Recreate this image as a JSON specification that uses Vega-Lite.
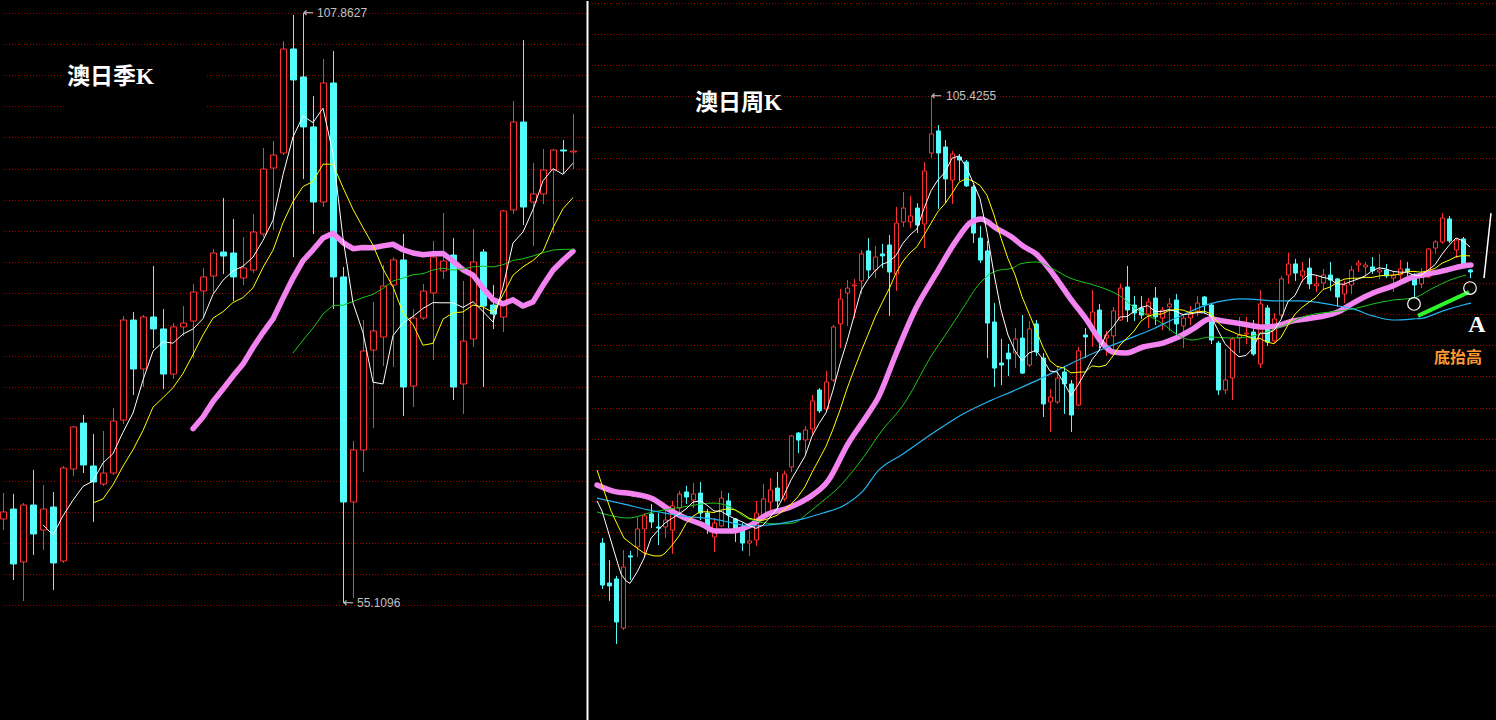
{
  "$schema": "https://vega.github.io/schema/vega-lite/v6.json",
  "background": "#000000",
  "padding": 0,
  "spacing": 0,
  "config": {"view": {"stroke": null}, "concat": {"spacing": 0}, "scale": {"continuousPadding": 0}},
  "datasets": {
    "left": [
      {"i":0,"o":62.63,"c":63.26,"h":64.96,"l":61.65},
      {"i":1,"o":63.52,"c":58.61,"h":64.87,"l":57.18},
      {"i":2,"o":58.79,"c":63.88,"h":64.06,"l":55.30},
      {"i":3,"o":63.88,"c":61.29,"h":67.01,"l":59.41},
      {"i":4,"o":61.65,"c":63.52,"h":65.67,"l":59.86},
      {"i":5,"o":63.70,"c":58.70,"h":65.04,"l":56.28},
      {"i":6,"o":58.88,"c":67.19,"h":67.37,"l":58.70},
      {"i":7,"o":67.10,"c":70.86,"h":70.94,"l":66.47},
      {"i":8,"o":71.21,"c":67.46,"h":71.93,"l":66.74},
      {"i":9,"o":67.37,"c":65.94,"h":70.23,"l":62.36},
      {"i":10,"o":65.76,"c":66.74,"h":70.50,"l":65.58},
      {"i":11,"o":66.74,"c":71.39,"h":72.55,"l":66.56},
      {"i":12,"o":71.48,"c":80.42,"h":80.78,"l":71.12},
      {"i":13,"o":80.42,"c":76.04,"h":81.14,"l":73.72},
      {"i":14,"o":76.04,"c":80.69,"h":80.87,"l":74.43},
      {"i":15,"o":80.69,"c":79.62,"h":85.25,"l":77.92},
      {"i":16,"o":79.62,"c":75.59,"h":81.40,"l":74.25},
      {"i":17,"o":75.59,"c":79.80,"h":80.15,"l":75.15},
      {"i":18,"o":79.80,"c":80.15,"h":81.67,"l":78.99},
      {"i":19,"o":80.33,"c":82.92,"h":83.64,"l":77.02},
      {"i":20,"o":83.01,"c":84.27,"h":85.07,"l":80.60},
      {"i":21,"o":84.35,"c":86.41,"h":86.77,"l":82.84},
      {"i":22,"o":86.50,"c":86.14,"h":91.33,"l":84.53},
      {"i":23,"o":86.41,"c":84.27,"h":89.45,"l":82.12},
      {"i":24,"o":84.18,"c":85.07,"h":87.84,"l":83.55},
      {"i":25,"o":84.89,"c":88.29,"h":89.90,"l":84.62},
      {"i":26,"o":88.11,"c":93.92,"h":95.80,"l":87.84},
      {"i":27,"o":94.01,"c":95.17,"h":96.42,"l":88.47},
      {"i":28,"o":95.35,"c":104.65,"h":105.36,"l":95.17},
      {"i":29,"o":104.65,"c":101.88,"h":107.69,"l":86.05},
      {"i":30,"o":102.15,"c":97.68,"h":107.8627,"l":93.03},
      {"i":31,"o":97.68,"c":90.97,"h":100.45,"l":88.11},
      {"i":32,"o":90.97,"c":101.61,"h":103.75,"l":90.52},
      {"i":33,"o":101.61,"c":84.27,"h":104.47,"l":81.40},
      {"i":34,"o":84.27,"c":64.15,"h":85.16,"l":55.1096},
      {"i":35,"o":64.15,"c":68.80,"h":69.60,"l":55.57},
      {"i":36,"o":68.80,"c":77.65,"h":80.42,"l":66.83},
      {"i":37,"o":77.74,"c":79.44,"h":82.03,"l":70.77},
      {"i":38,"o":78.90,"c":83.46,"h":85.34,"l":76.31},
      {"i":39,"o":83.55,"c":85.79,"h":86.05,"l":76.22},
      {"i":40,"o":85.79,"c":74.43,"h":88.11,"l":71.84},
      {"i":41,"o":74.52,"c":80.60,"h":81.40,"l":72.64},
      {"i":42,"o":80.60,"c":83.01,"h":83.64,"l":80.42},
      {"i":43,"o":82.84,"c":86.05,"h":87.48,"l":76.85},
      {"i":44,"o":84.80,"c":85.70,"h":89.99,"l":84.09},
      {"i":45,"o":86.23,"c":74.43,"h":87.75,"l":73.27},
      {"i":46,"o":74.70,"c":78.54,"h":83.91,"l":72.02},
      {"i":47,"o":78.72,"c":85.61,"h":88.56,"l":78.01},
      {"i":48,"o":86.50,"c":81.67,"h":86.77,"l":74.43},
      {"i":49,"o":81.76,"c":80.96,"h":83.55,"l":79.62},
      {"i":50,"o":80.69,"c":90.17,"h":90.26,"l":79.35},
      {"i":51,"o":90.26,"c":98.12,"h":100.00,"l":89.90},
      {"i":52,"o":98.12,"c":90.52,"h":105.45,"l":88.91},
      {"i":53,"o":90.97,"c":91.69,"h":94.46,"l":87.04},
      {"i":54,"o":91.69,"c":93.83,"h":95.71,"l":90.79},
      {"i":55,"o":93.83,"c":95.62,"h":95.71,"l":88.20},
      {"i":56,"o":95.62,"c":95.53,"h":96.51,"l":93.47},
      {"i":57,"o":95.44,"c":95.53,"h":98.84,"l":93.92}
    ],
    "right": [
      {"i":0,"o":80.39,"c":78.04,"h":80.67,"l":77.82},
      {"i":1,"o":78.15,"c":77.99,"h":79.44,"l":77.15},
      {"i":2,"o":78.38,"c":75.97,"h":78.55,"l":74.74},
      {"i":3,"o":75.63,"c":79.05,"h":80.00,"l":75.52},
      {"i":4,"o":79.67,"c":79.61,"h":79.95,"l":78.32},
      {"i":5,"o":80.17,"c":81.18,"h":81.85,"l":79.61},
      {"i":6,"o":81.18,"c":81.91,"h":82.07,"l":79.61},
      {"i":7,"o":82.02,"c":81.57,"h":82.58,"l":81.23},
      {"i":8,"o":81.29,"c":81.23,"h":82.07,"l":80.28},
      {"i":9,"o":81.29,"c":81.68,"h":82.35,"l":80.67},
      {"i":10,"o":81.12,"c":82.47,"h":82.75,"l":79.78},
      {"i":11,"o":82.35,"c":83.14,"h":83.31,"l":81.79},
      {"i":12,"o":83.25,"c":82.97,"h":83.59,"l":82.58},
      {"i":13,"o":82.80,"c":83.14,"h":83.75,"l":82.35},
      {"i":14,"o":83.19,"c":82.07,"h":83.81,"l":81.68},
      {"i":15,"o":82.07,"c":81.23,"h":82.30,"l":80.90},
      {"i":16,"o":80.73,"c":81.51,"h":81.79,"l":79.89},
      {"i":17,"o":81.35,"c":82.91,"h":83.31,"l":81.29},
      {"i":18,"o":82.75,"c":81.96,"h":83.19,"l":81.23},
      {"i":19,"o":81.74,"c":81.12,"h":81.79,"l":80.45},
      {"i":20,"o":81.18,"c":80.39,"h":81.51,"l":79.95},
      {"i":21,"o":80.39,"c":80.51,"h":81.07,"l":79.67},
      {"i":22,"o":80.56,"c":82.07,"h":82.75,"l":80.23},
      {"i":23,"o":81.96,"c":82.86,"h":83.70,"l":81.79},
      {"i":24,"o":82.69,"c":83.36,"h":84.03,"l":82.24},
      {"i":25,"o":83.47,"c":82.75,"h":84.37,"l":82.24},
      {"i":26,"o":82.86,"c":84.26,"h":84.43,"l":82.75},
      {"i":27,"o":84.65,"c":86.39,"h":86.44,"l":84.37},
      {"i":28,"o":86.55,"c":86.16,"h":86.61,"l":85.43},
      {"i":29,"o":86.16,"c":86.72,"h":86.95,"l":85.38},
      {"i":30,"o":86.78,"c":88.35,"h":88.68,"l":86.39},
      {"i":31,"o":88.96,"c":87.79,"h":89.07,"l":87.67},
      {"i":32,"o":87.90,"c":89.41,"h":90.03,"l":87.79},
      {"i":33,"o":89.52,"c":92.49,"h":92.60,"l":89.41},
      {"i":34,"o":92.66,"c":94.06,"h":94.62,"l":91.31},
      {"i":35,"o":94.39,"c":94.67,"h":95.12,"l":92.55},
      {"i":36,"o":94.79,"c":94.84,"h":95.18,"l":92.99},
      {"i":37,"o":95.07,"c":96.58,"h":96.80,"l":94.34},
      {"i":38,"o":96.75,"c":95.68,"h":97.47,"l":95.23},
      {"i":39,"o":95.68,"c":96.41,"h":97.03,"l":95.23},
      {"i":40,"o":96.58,"c":96.47,"h":97.14,"l":95.79},
      {"i":41,"o":97.08,"c":95.57,"h":97.64,"l":93.11},
      {"i":42,"o":95.46,"c":98.31,"h":99.21,"l":94.51},
      {"i":43,"o":98.37,"c":99.15,"h":100.05,"l":98.09},
      {"i":44,"o":98.37,"c":98.71,"h":99.83,"l":98.03},
      {"i":45,"o":99.15,"c":98.20,"h":99.43,"l":97.75},
      {"i":46,"o":98.26,"c":101.23,"h":101.73,"l":96.91},
      {"i":47,"o":102.23,"c":103.30,"h":105.4255,"l":101.95},
      {"i":48,"o":103.47,"c":102.23,"h":103.80,"l":99.10},
      {"i":49,"o":102.57,"c":100.78,"h":102.96,"l":99.43},
      {"i":50,"o":100.72,"c":102.18,"h":102.35,"l":99.38},
      {"i":51,"o":102.01,"c":101.84,"h":102.18,"l":100.67},
      {"i":52,"o":101.73,"c":100.39,"h":101.84,"l":100.33},
      {"i":53,"o":100.33,"c":97.75,"h":100.44,"l":97.19},
      {"i":54,"o":97.47,"c":96.24,"h":98.15,"l":96.07},
      {"i":55,"o":96.75,"c":92.71,"h":97.31,"l":90.75},
      {"i":56,"o":92.77,"c":90.19,"h":93.83,"l":89.13},
      {"i":57,"o":90.47,"c":90.36,"h":91.82,"l":89.24},
      {"i":58,"o":91.03,"c":90.70,"h":91.54,"l":89.75},
      {"i":59,"o":91.03,"c":91.82,"h":92.43,"l":90.19},
      {"i":60,"o":91.87,"c":89.91,"h":93.16,"l":89.86},
      {"i":61,"o":90.36,"c":92.38,"h":92.83,"l":90.25},
      {"i":62,"o":92.66,"c":91.09,"h":92.88,"l":90.87},
      {"i":63,"o":90.75,"c":88.18,"h":91.03,"l":87.45},
      {"i":64,"o":88.29,"c":88.57,"h":89.02,"l":86.61},
      {"i":65,"o":88.29,"c":89.63,"h":90.25,"l":88.18},
      {"i":66,"o":89.97,"c":89.30,"h":90.31,"l":87.62},
      {"i":67,"o":89.30,"c":87.56,"h":89.52,"l":86.61},
      {"i":68,"o":88.12,"c":91.15,"h":91.37,"l":88.07},
      {"i":69,"o":92.04,"c":91.93,"h":92.43,"l":90.75},
      {"i":70,"o":92.38,"c":93.33,"h":94.56,"l":91.37},
      {"i":71,"o":93.44,"c":91.82,"h":93.78,"l":91.31},
      {"i":72,"o":91.87,"c":92.04,"h":92.27,"l":90.87},
      {"i":73,"o":91.99,"c":93.39,"h":93.61,"l":90.98},
      {"i":74,"o":92.88,"c":94.67,"h":94.90,"l":92.83},
      {"i":75,"o":94.73,"c":93.44,"h":95.91,"l":92.77},
      {"i":76,"o":93.72,"c":93.27,"h":94.23,"l":92.83},
      {"i":77,"o":93.55,"c":93.16,"h":94.23,"l":92.94},
      {"i":78,"o":93.22,"c":93.89,"h":94.11,"l":92.43},
      {"i":79,"o":94.11,"c":93.05,"h":94.73,"l":92.60},
      {"i":80,"o":92.99,"c":93.44,"h":93.61,"l":92.32},
      {"i":81,"o":93.61,"c":93.78,"h":94.11,"l":92.27},
      {"i":82,"o":94.00,"c":92.66,"h":94.34,"l":92.04},
      {"i":83,"o":92.55,"c":92.99,"h":93.22,"l":91.31},
      {"i":84,"o":92.99,"c":93.22,"h":93.67,"l":92.60},
      {"i":85,"o":93.39,"c":93.83,"h":94.23,"l":93.11},
      {"i":86,"o":94.17,"c":93.72,"h":94.23,"l":93.27},
      {"i":87,"o":93.72,"c":91.76,"h":93.83,"l":91.54},
      {"i":88,"o":91.59,"c":88.96,"h":91.71,"l":88.68},
      {"i":89,"o":88.96,"c":89.52,"h":91.26,"l":88.74},
      {"i":90,"o":89.63,"c":91.82,"h":91.93,"l":88.40},
      {"i":91,"o":91.87,"c":92.04,"h":93.05,"l":91.03},
      {"i":92,"o":92.10,"c":92.15,"h":93.05,"l":91.54},
      {"i":93,"o":92.21,"c":90.98,"h":92.88,"l":90.87},
      {"i":94,"o":90.42,"c":93.78,"h":94.56,"l":90.19},
      {"i":95,"o":93.55,"c":91.65,"h":93.72,"l":91.43},
      {"i":96,"o":91.71,"c":92.94,"h":93.27,"l":91.59},
      {"i":97,"o":93.16,"c":95.18,"h":95.35,"l":92.99},
      {"i":98,"o":95.40,"c":96.02,"h":96.63,"l":94.90},
      {"i":99,"o":96.02,"c":95.51,"h":96.30,"l":95.07},
      {"i":100,"o":95.35,"c":95.63,"h":96.13,"l":95.01},
      {"i":101,"o":95.79,"c":94.90,"h":96.35,"l":94.62},
      {"i":102,"o":94.79,"c":94.90,"h":95.35,"l":94.45},
      {"i":103,"o":94.95,"c":95.40,"h":95.74,"l":94.56},
      {"i":104,"o":95.40,"c":95.12,"h":96.13,"l":94.51},
      {"i":105,"o":95.18,"c":94.17,"h":95.23,"l":93.61},
      {"i":106,"o":94.34,"c":94.84,"h":95.07,"l":93.83},
      {"i":107,"o":94.84,"c":95.68,"h":95.91,"l":94.34},
      {"i":108,"o":95.96,"c":96.07,"h":96.24,"l":95.57},
      {"i":109,"o":95.85,"c":95.96,"h":96.13,"l":95.35},
      {"i":110,"o":95.85,"c":95.63,"h":96.41,"l":95.46},
      {"i":111,"o":95.57,"c":95.68,"h":96.58,"l":95.18},
      {"i":112,"o":95.68,"c":95.35,"h":96.02,"l":95.23},
      {"i":113,"o":95.23,"c":95.40,"h":95.57,"l":94.45},
      {"i":114,"o":95.40,"c":95.74,"h":96.24,"l":95.12},
      {"i":115,"o":95.74,"c":95.63,"h":96.13,"l":95.35},
      {"i":116,"o":95.23,"c":94.84,"h":95.51,"l":94.11},
      {"i":117,"o":94.90,"c":95.29,"h":95.79,"l":94.67},
      {"i":118,"o":95.29,"c":96.86,"h":96.91,"l":95.23},
      {"i":119,"o":96.91,"c":97.25,"h":97.36,"l":96.58},
      {"i":120,"o":97.25,"c":98.59,"h":98.87,"l":97.14},
      {"i":121,"o":98.54,"c":97.31,"h":98.71,"l":97.19},
      {"i":122,"o":96.80,"c":97.36,"h":97.42,"l":96.35},
      {"i":123,"o":97.42,"c":96.02,"h":97.53,"l":95.91},
      {"i":124,"o":95.68,"c":95.57,"h":95.74,"l":95.23}
    ],
    "leftGrid": [
      {"p":107.82},{"p":105.05},{"p":102.28},{"p":99.51},{"p":96.74},
      {"p":93.88},{"p":91.10},{"p":88.33},{"p":85.56},{"p":82.79},
      {"p":79.93},{"p":77.16},{"p":74.39},{"p":71.62},{"p":68.84},
      {"p":65.98},{"p":63.21},{"p":60.44},{"p":57.67},{"p":54.90}
    ],
    "rightGrid": [
      {"p":110.605},{"p":108.869},{"p":107.133},{"p":105.397},{"p":103.661},
      {"p":101.925},{"p":100.189},{"p":98.453},{"p":96.661},{"p":94.925},
      {"p":93.189},{"p":91.453},{"p":89.717},{"p":87.925},{"p":86.189},
      {"p":84.453},{"p":82.717},{"p":80.981},{"p":79.189},{"p":77.453},
      {"p":75.717}
    ],
    "rightHead": [
      {"ma":"MA5","i":-0.71,"v":82.75},{"ma":"MA5","i":0,"v":82.19},{"ma":"MA5","i":0.86,"v":81.07},
      {"ma":"MA5","i":1.71,"v":79.95},{"ma":"MA5","i":2.71,"v":78.66},{"ma":"MA5","i":3.43,"v":78.27},
      {"ma":"MA5","i":4,"v":78.13},
      {"ma":"MA10","i":-0.71,"v":84.48},{"ma":"MA10","i":0.29,"v":83.31},{"ma":"MA10","i":1.29,"v":82.19},
      {"ma":"MA10","i":2.29,"v":81.35},{"ma":"MA10","i":3.14,"v":80.67},{"ma":"MA10","i":4.57,"v":80.23},
      {"ma":"MA10","i":6,"v":79.83},{"ma":"MA10","i":7.43,"v":79.67},{"ma":"MA10","i":8.43,"v":79.67},
      {"ma":"MA10","i":9,"v":79.82}
    ],
    "rightMA": [
      {"ma":"MA20","i":-0.71,"v":83.64},{"ma":"MA20","i":1.57,"v":83.30},{"ma":"MA20","i":4.43,"v":83.14},
      {"ma":"MA20","i":7.29,"v":82.86},{"ma":"MA20","i":9.43,"v":82.30},{"ma":"MA20","i":11.57,"v":81.85},
      {"ma":"MA20","i":14.43,"v":81.40},{"ma":"MA20","i":16.14,"v":81.07},{"ma":"MA20","i":18.71,"v":81.07},
      {"ma":"MA20","i":21.0,"v":81.35},{"ma":"MA20","i":23.71,"v":82.02},{"ma":"MA20","i":26.57,"v":82.35},
      {"ma":"MA20","i":29.43,"v":82.91},{"ma":"MA20","i":32.29,"v":83.87},{"ma":"MA20","i":35.14,"v":85.94},
      {"ma":"MA20","i":38.0,"v":87.62},{"ma":"MA20","i":39.43,"v":88.51},{"ma":"MA20","i":42.0,"v":90.98},
      {"ma":"MA20","i":44.86,"v":93.55},{"ma":"MA20","i":47.71,"v":95.46},{"ma":"MA20","i":50.57,"v":97.31},
      {"ma":"MA20","i":52.57,"v":98.31},{"ma":"MA20","i":54.14,"v":98.54},{"ma":"MA20","i":56.29,"v":98.03},
      {"ma":"MA20","i":58.71,"v":97.47},{"ma":"MA20","i":60.14,"v":97.02},{"ma":"MA20","i":62.0,"v":96.58},
      {"ma":"MA20","i":64.43,"v":95.46},{"ma":"MA20","i":66.86,"v":94.11},{"ma":"MA20","i":69.14,"v":92.94},
      {"ma":"MA20","i":71.57,"v":91.54},{"ma":"MA20","i":73.0,"v":91.09},{"ma":"MA20","i":74.86,"v":91.03},
      {"ma":"MA20","i":77.29,"v":91.37},{"ma":"MA20","i":80.14,"v":91.59},{"ma":"MA20","i":82.0,"v":91.87},
      {"ma":"MA20","i":84.43,"v":92.38},{"ma":"MA20","i":86.86,"v":92.94},{"ma":"MA20","i":88.71,"v":92.83},
      {"ma":"MA20","i":91.57,"v":92.66},{"ma":"MA20","i":94.43,"v":92.49},{"ma":"MA20","i":96.29,"v":92.55},
      {"ma":"MA20","i":98.71,"v":92.83},{"ma":"MA20","i":100.57,"v":92.94},{"ma":"MA20","i":105.43,"v":93.39},
      {"ma":"MA20","i":107.29,"v":93.83},{"ma":"MA20","i":110.14,"v":94.39},{"ma":"MA20","i":113.0,"v":94.79},
      {"ma":"MA20","i":115.86,"v":95.29},{"ma":"MA20","i":117.29,"v":95.40},{"ma":"MA20","i":120.14,"v":95.63},
      {"ma":"MA20","i":123.0,"v":95.91},{"ma":"MA20","i":124.14,"v":95.96},
      {"ma":"MA30","i":-0.71,"v":82.13},{"ma":"MA30","i":1.57,"v":81.90},{"ma":"MA30","i":3.71,"v":81.79},
      {"ma":"MA30","i":7.29,"v":82.13},{"ma":"MA30","i":11.57,"v":82.41},{"ma":"MA30","i":15.86,"v":82.63},
      {"ma":"MA30","i":18.0,"v":82.47},{"ma":"MA30","i":21.0,"v":81.74},{"ma":"MA30","i":25.14,"v":81.46},
      {"ma":"MA30","i":27.29,"v":81.51},{"ma":"MA30","i":29.43,"v":82.07},{"ma":"MA30","i":31.57,"v":82.75},
      {"ma":"MA30","i":33.71,"v":83.47},{"ma":"MA30","i":35.86,"v":84.43},{"ma":"MA30","i":38.0,"v":85.55},
      {"ma":"MA30","i":39.43,"v":86.39},{"ma":"MA30","i":43.43,"v":88.35},{"ma":"MA30","i":46.86,"v":90.75},
      {"ma":"MA30","i":49.71,"v":92.43},{"ma":"MA30","i":51.57,"v":93.55},{"ma":"MA30","i":54.0,"v":94.95},
      {"ma":"MA30","i":56.29,"v":95.63},{"ma":"MA30","i":58.71,"v":95.79},{"ma":"MA30","i":59.71,"v":96.02},
      {"ma":"MA30","i":62.0,"v":96.13},{"ma":"MA30","i":64.43,"v":95.74},{"ma":"MA30","i":66.86,"v":95.23},
      {"ma":"MA30","i":69.71,"v":94.90},{"ma":"MA30","i":71.57,"v":94.67},{"ma":"MA30","i":74.0,"v":94.23},
      {"ma":"MA30","i":76.29,"v":93.50},{"ma":"MA30","i":78.71,"v":92.99},{"ma":"MA30","i":80.14,"v":92.66},
      {"ma":"MA30","i":82.0,"v":92.10},{"ma":"MA30","i":84.43,"v":91.76},{"ma":"MA30","i":86.86,"v":91.93},
      {"ma":"MA30","i":89.71,"v":91.87},{"ma":"MA30","i":93.0,"v":91.99},{"ma":"MA30","i":95.43,"v":92.27},
      {"ma":"MA30","i":97.29,"v":92.55},{"ma":"MA30","i":100.57,"v":93.11},{"ma":"MA30","i":105.43,"v":93.39},
      {"ma":"MA30","i":107.29,"v":93.50},{"ma":"MA30","i":110.14,"v":93.78},{"ma":"MA30","i":113.0,"v":94.00},
      {"ma":"MA30","i":115.86,"v":94.11},{"ma":"MA30","i":118.71,"v":94.67},{"ma":"MA30","i":121.14,"v":95.12},
      {"ma":"MA30","i":123.43,"v":95.40},
      {"ma":"MA60","i":-0.71,"v":82.91},{"ma":"MA60","i":3.0,"v":82.58},{"ma":"MA60","i":7.29,"v":82.19},
      {"ma":"MA60","i":11.57,"v":81.90},{"ma":"MA60","i":15.86,"v":81.74},{"ma":"MA60","i":18.71,"v":81.51},
      {"ma":"MA60","i":21.0,"v":81.35},{"ma":"MA60","i":25.14,"v":81.46},{"ma":"MA60","i":28.71,"v":81.74},
      {"ma":"MA60","i":31.57,"v":82.07},{"ma":"MA60","i":34.43,"v":82.47},{"ma":"MA60","i":37.29,"v":83.31},
      {"ma":"MA60","i":39.43,"v":84.43},{"ma":"MA60","i":43.0,"v":85.38},{"ma":"MA60","i":47.29,"v":86.55},
      {"ma":"MA60","i":51.57,"v":87.62},{"ma":"MA60","i":55.43,"v":88.35},{"ma":"MA60","i":58.71,"v":88.90},
      {"ma":"MA60","i":62.0,"v":89.47},{"ma":"MA60","i":66.86,"v":90.42},{"ma":"MA60","i":71.57,"v":91.26},
      {"ma":"MA60","i":76.29,"v":91.99},{"ma":"MA60","i":78.71,"v":92.38},{"ma":"MA60","i":82.0,"v":92.99},
      {"ma":"MA60","i":86.86,"v":93.78},{"ma":"MA60","i":91.57,"v":94.06},{"ma":"MA60","i":96.29,"v":93.95},
      {"ma":"MA60","i":99.71,"v":93.95},{"ma":"MA60","i":104.43,"v":93.72},{"ma":"MA60","i":107.29,"v":93.50},
      {"ma":"MA60","i":110.14,"v":93.11},{"ma":"MA60","i":113.0,"v":92.88},{"ma":"MA60","i":115.86,"v":92.94},
      {"ma":"MA60","i":117.29,"v":92.99},{"ma":"MA60","i":120.14,"v":93.39},{"ma":"MA60","i":123.0,"v":93.72},
      {"ma":"MA60","i":124.14,"v":93.83}
    ],
    "rightMarks": [{"i":116.0,"p":93.78},{"i":124.0,"p":94.67}],
    "rightRise": [{"i":116.57,"p":93.11},{"i":123.86,"p":94.45}],
    "rightSlash": [{"i":126.0,"p":95.23},{"i":127.0,"p":98.87}]
  },
  "hconcat": [
    {
      "width": 588,
      "height": 720,
      "layer": [
        {
          "data": {"name": "leftGrid"},
          "mark": {"type": "rule", "stroke": "#a00000", "strokeWidth": 1, "strokeDash": [1, 2]},
          "encoding": {"y": {"field": "p", "type": "quantitative", "scale": {"domain": [44.572, 108.94], "nice": false, "zero": false}, "axis": null}}
        },
        {
          "data": {"values": [{"i0": 6.1, "i1": 20.4, "p0": 103.6, "p1": 99.1}]},
          "mark": {"type": "rect", "fill": "#000000"},
          "encoding": {
            "x": {"field": "i0", "type": "quantitative", "scale": {"domain": [-0.2, 58.6], "nice": false, "zero": false, "padding": 0}, "axis": null},
            "x2": {"field": "i1"},
            "y": {"field": "p0", "type": "quantitative", "scale": {"domain": [44.572, 108.94], "nice": false, "zero": false}, "axis": null},
            "y2": {"field": "p1"}
          }
        },
        {
          "data": {"name": "left"},
          "mark": {"type": "rule", "strokeWidth": 1, "xOffset": 0.5},
          "encoding": {
            "x": {"field": "i", "type": "quantitative", "scale": {"domain": [-0.2, 58.6], "nice": false, "zero": false, "padding": 0}, "axis": null},
            "y": {"field": "h", "type": "quantitative", "scale": {"domain": [44.572, 108.94], "nice": false, "zero": false}, "axis": null},
            "y2": {"field": "l"},
            "color": {"condition": {"test": "datum.c > datum.o", "value": "#ff3232"}, "value": "#54fcfc"}
          }
        },
        {
          "data": {"name": "left"},
          "mark": {"type": "bar", "size": 6, "strokeWidth": 1, "xOffset": 0.5},
          "encoding": {
            "x": {"field": "i", "type": "quantitative", "scale": {"domain": [-0.2, 58.6], "nice": false, "zero": false, "padding": 0}, "axis": null},
            "y": {"field": "o", "type": "quantitative", "scale": {"domain": [44.572, 108.94], "nice": false, "zero": false}, "axis": null},
            "y2": {"field": "c"},
            "fill": {"condition": {"test": "datum.c > datum.o", "value": "#000000"}, "value": "#54fcfc"},
            "stroke": {"condition": {"test": "datum.c > datum.o", "value": "#ff3232"}, "value": "#54fcfc"}
          }
        },
        {
          "data": {"name": "left"},
          "transform": [
            {"window": [{"op": "mean", "field": "c", "as": "ma"}, {"op": "count", "as": "n"}], "frame": [-19, 0], "sort": [{"field": "i"}]},
            {"filter": "datum.n >= 20"}
          ],
          "mark": {"type": "line", "stroke": "#f383f0", "strokeWidth": 5.5, "strokeCap": "round", "strokeJoin": "round"},
          "encoding": {
            "x": {"field": "i", "type": "quantitative", "scale": {"domain": [-0.2, 58.6], "nice": false, "zero": false, "padding": 0}, "axis": null},
            "y": {"field": "ma", "type": "quantitative", "scale": {"domain": [44.572, 108.94], "nice": false, "zero": false}, "axis": null}
          }
        },
        {
          "data": {"name": "left"},
          "transform": [
            {"window": [{"op": "mean", "field": "c", "as": "ma"}, {"op": "count", "as": "n"}], "frame": [-29, 0], "sort": [{"field": "i"}]},
            {"filter": "datum.n >= 30"}
          ],
          "mark": {"type": "line", "stroke": "#19c819", "strokeWidth": 1},
          "encoding": {
            "x": {"field": "i", "type": "quantitative", "scale": {"domain": [-0.2, 58.6], "nice": false, "zero": false, "padding": 0}, "axis": null},
            "y": {"field": "ma", "type": "quantitative", "scale": {"domain": [44.572, 108.94], "nice": false, "zero": false}, "axis": null}
          }
        },
        {
          "data": {"name": "left"},
          "transform": [
            {"window": [{"op": "mean", "field": "c", "as": "ma"}, {"op": "count", "as": "n"}], "frame": [-9, 0], "sort": [{"field": "i"}]},
            {"filter": "datum.n >= 10"}
          ],
          "mark": {"type": "line", "stroke": "#ffff00", "strokeWidth": 1},
          "encoding": {
            "x": {"field": "i", "type": "quantitative", "scale": {"domain": [-0.2, 58.6], "nice": false, "zero": false, "padding": 0}, "axis": null},
            "y": {"field": "ma", "type": "quantitative", "scale": {"domain": [44.572, 108.94], "nice": false, "zero": false}, "axis": null}
          }
        },
        {
          "data": {"name": "left"},
          "transform": [
            {"window": [{"op": "mean", "field": "c", "as": "ma"}, {"op": "count", "as": "n"}], "frame": [-4, 0], "sort": [{"field": "i"}]},
            {"filter": "datum.n >= 5"}
          ],
          "mark": {"type": "line", "stroke": "#ffffff", "strokeWidth": 1},
          "encoding": {
            "x": {"field": "i", "type": "quantitative", "scale": {"domain": [-0.2, 58.6], "nice": false, "zero": false, "padding": 0}, "axis": null},
            "y": {"field": "ma", "type": "quantitative", "scale": {"domain": [44.572, 108.94], "nice": false, "zero": false}, "axis": null}
          }
        },
        {
          "data": {"name": "left"},
          "transform": [{"joinaggregate": [{"op": "max", "field": "h", "as": "hmax"}]}, {"filter": "datum.h === datum.hmax"}],
          "layer": [
            {
              "mark": {"type": "text", "text": "←", "font": "DejaVu Sans", "fontSize": 13, "fill": "#c0c0c0", "align": "left", "baseline": "middle"},
              "encoding": {
                "x": {"field": "i", "type": "quantitative", "scale": {"domain": [-0.2, 58.6], "nice": false, "zero": false, "padding": 0}, "axis": null},
                "y": {"field": "h", "type": "quantitative", "scale": {"domain": [44.572, 108.94], "nice": false, "zero": false}, "axis": null}
              }
            },
            {
              "mark": {"type": "text", "font": "Liberation Sans", "fontSize": 12, "fill": "#c0c0c0", "align": "left", "baseline": "middle", "dx": 14},
              "encoding": {
                "x": {"field": "i", "type": "quantitative", "scale": {"domain": [-0.2, 58.6], "nice": false, "zero": false, "padding": 0}, "axis": null},
                "y": {"field": "h", "type": "quantitative", "scale": {"domain": [44.572, 108.94], "nice": false, "zero": false}, "axis": null},
                "text": {"field": "h", "type": "quantitative", "format": ".4f"}
              }
            }
          ]
        },
        {
          "data": {"name": "left"},
          "transform": [{"joinaggregate": [{"op": "min", "field": "l", "as": "lmin"}]}, {"filter": "datum.l === datum.lmin"}],
          "layer": [
            {
              "mark": {"type": "text", "text": "←", "font": "DejaVu Sans", "fontSize": 13, "fill": "#c0c0c0", "align": "left", "baseline": "middle"},
              "encoding": {
                "x": {"field": "i", "type": "quantitative", "scale": {"domain": [-0.2, 58.6], "nice": false, "zero": false, "padding": 0}, "axis": null},
                "y": {"field": "l", "type": "quantitative", "scale": {"domain": [44.572, 108.94], "nice": false, "zero": false}, "axis": null}
              }
            },
            {
              "mark": {"type": "text", "font": "Liberation Sans", "fontSize": 12, "fill": "#c0c0c0", "align": "left", "baseline": "middle", "dx": 14},
              "encoding": {
                "x": {"field": "i", "type": "quantitative", "scale": {"domain": [-0.2, 58.6], "nice": false, "zero": false, "padding": 0}, "axis": null},
                "y": {"field": "l", "type": "quantitative", "scale": {"domain": [44.572, 108.94], "nice": false, "zero": false}, "axis": null},
                "text": {"field": "l", "type": "quantitative", "format": ".4f"}
              }
            }
          ]
        },
        {
          "data": {"values": [{"t": "澳日季K", "i": 6.4, "p": 102.15}]},
          "mark": {"type": "text", "font": "Liberation Serif, Noto Sans CJK SC", "fontSize": 23, "fontWeight": "bold", "fill": "#ffffff", "align": "left", "baseline": "middle"},
          "encoding": {
            "x": {"field": "i", "type": "quantitative", "scale": {"domain": [-0.2, 58.6], "nice": false, "zero": false, "padding": 0}, "axis": null},
            "y": {"field": "p", "type": "quantitative", "scale": {"domain": [44.572, 108.94], "nice": false, "zero": false}, "axis": null},
            "text": {"field": "t"}
          }
        },
        {
          "data": {"values": [{}]},
          "mark": {"type": "rule", "stroke": "#ffffff", "strokeWidth": 2},
          "encoding": {"x": {"datum": 58.45, "type": "quantitative", "scale": {"domain": [-0.2, 58.6], "nice": false, "zero": false, "padding": 0}, "axis": null}}
        }
      ]
    },
    {
      "width": 908,
      "height": 720,
      "layer": [
        {
          "data": {"name": "rightGrid"},
          "mark": {"type": "rule", "stroke": "#a00000", "strokeWidth": 1, "strokeDash": [1, 2]},
          "encoding": {"y": {"field": "p", "type": "quantitative", "scale": {"domain": [70.425, 110.745], "nice": false, "zero": false}, "axis": null}}
        },
        {
          "data": {"name": "right"},
          "mark": {"type": "rule", "strokeWidth": 1, "xOffset": 0.5},
          "encoding": {
            "x": {"field": "i", "type": "quantitative", "scale": {"domain": [-1.5714, 128.1429], "nice": false, "zero": false, "padding": 0}, "axis": null},
            "y": {"field": "h", "type": "quantitative", "scale": {"domain": [70.425, 110.745], "nice": false, "zero": false}, "axis": null},
            "y2": {"field": "l"},
            "color": {"condition": {"test": "datum.c > datum.o", "value": "#ff3232"}, "value": "#54fcfc"}
          }
        },
        {
          "data": {"name": "right"},
          "mark": {"type": "bar", "size": 4, "strokeWidth": 1, "xOffset": 0.5},
          "encoding": {
            "x": {"field": "i", "type": "quantitative", "scale": {"domain": [-1.5714, 128.1429], "nice": false, "zero": false, "padding": 0}, "axis": null},
            "y": {"field": "o", "type": "quantitative", "scale": {"domain": [70.425, 110.745], "nice": false, "zero": false}, "axis": null},
            "y2": {"field": "c"},
            "fill": {"condition": {"test": "datum.c > datum.o", "value": "#000000"}, "value": "#54fcfc"},
            "stroke": {"condition": {"test": "datum.c > datum.o", "value": "#ff3232"}, "value": "#54fcfc"}
          }
        },
        {
          "data": {"name": "rightMA"},
          "transform": [{"filter": "datum.ma === 'MA20'"}],
          "mark": {"type": "line", "stroke": "#f383f0", "strokeWidth": 5.5, "strokeCap": "round", "strokeJoin": "round", "interpolate": "monotone"},
          "encoding": {
            "x": {"field": "i", "type": "quantitative", "scale": {"domain": [-1.5714, 128.1429], "nice": false, "zero": false, "padding": 0}, "axis": null},
            "y": {"field": "v", "type": "quantitative", "scale": {"domain": [70.425, 110.745], "nice": false, "zero": false}, "axis": null}
          }
        },
        {
          "data": {"name": "rightMA"},
          "transform": [{"filter": "datum.ma === 'MA30'"}],
          "mark": {"type": "line", "stroke": "#19c819", "strokeWidth": 1, "interpolate": "monotone"},
          "encoding": {
            "x": {"field": "i", "type": "quantitative", "scale": {"domain": [-1.5714, 128.1429], "nice": false, "zero": false, "padding": 0}, "axis": null},
            "y": {"field": "v", "type": "quantitative", "scale": {"domain": [70.425, 110.745], "nice": false, "zero": false}, "axis": null}
          }
        },
        {
          "data": {"name": "rightMA"},
          "transform": [{"filter": "datum.ma === 'MA60'"}],
          "mark": {"type": "line", "stroke": "#22b4f0", "strokeWidth": 1.2, "interpolate": "monotone"},
          "encoding": {
            "x": {"field": "i", "type": "quantitative", "scale": {"domain": [-1.5714, 128.1429], "nice": false, "zero": false, "padding": 0}, "axis": null},
            "y": {"field": "v", "type": "quantitative", "scale": {"domain": [70.425, 110.745], "nice": false, "zero": false}, "axis": null}
          }
        },
        {
          "data": {"name": "right"},
          "transform": [
            {"window": [{"op": "mean", "field": "c", "as": "ma"}, {"op": "count", "as": "n"}], "frame": [-9, 0], "sort": [{"field": "i"}]},
            {"filter": "datum.n >= 10"}
          ],
          "mark": {"type": "line", "stroke": "#ffff00", "strokeWidth": 1},
          "encoding": {
            "x": {"field": "i", "type": "quantitative", "scale": {"domain": [-1.5714, 128.1429], "nice": false, "zero": false, "padding": 0}, "axis": null},
            "y": {"field": "ma", "type": "quantitative", "scale": {"domain": [70.425, 110.745], "nice": false, "zero": false}, "axis": null}
          }
        },
        {
          "data": {"name": "rightHead"},
          "transform": [{"filter": "datum.ma === 'MA10'"}],
          "mark": {"type": "line", "stroke": "#ffff00", "strokeWidth": 1},
          "encoding": {
            "x": {"field": "i", "type": "quantitative", "scale": {"domain": [-1.5714, 128.1429], "nice": false, "zero": false, "padding": 0}, "axis": null},
            "y": {"field": "v", "type": "quantitative", "scale": {"domain": [70.425, 110.745], "nice": false, "zero": false}, "axis": null}
          }
        },
        {
          "data": {"name": "right"},
          "transform": [
            {"window": [{"op": "mean", "field": "c", "as": "ma"}, {"op": "count", "as": "n"}], "frame": [-4, 0], "sort": [{"field": "i"}]},
            {"filter": "datum.n >= 5"}
          ],
          "mark": {"type": "line", "stroke": "#ffffff", "strokeWidth": 1},
          "encoding": {
            "x": {"field": "i", "type": "quantitative", "scale": {"domain": [-1.5714, 128.1429], "nice": false, "zero": false, "padding": 0}, "axis": null},
            "y": {"field": "ma", "type": "quantitative", "scale": {"domain": [70.425, 110.745], "nice": false, "zero": false}, "axis": null}
          }
        },
        {
          "data": {"name": "rightHead"},
          "transform": [{"filter": "datum.ma === 'MA5'"}],
          "mark": {"type": "line", "stroke": "#ffffff", "strokeWidth": 1},
          "encoding": {
            "x": {"field": "i", "type": "quantitative", "scale": {"domain": [-1.5714, 128.1429], "nice": false, "zero": false, "padding": 0}, "axis": null},
            "y": {"field": "v", "type": "quantitative", "scale": {"domain": [70.425, 110.745], "nice": false, "zero": false}, "axis": null}
          }
        },
        {
          "data": {"name": "rightRise"},
          "mark": {"type": "line", "stroke": "#2ef52e", "strokeWidth": 4},
          "encoding": {
            "x": {"field": "i", "type": "quantitative", "scale": {"domain": [-1.5714, 128.1429], "nice": false, "zero": false, "padding": 0}, "axis": null},
            "y": {"field": "p", "type": "quantitative", "scale": {"domain": [70.425, 110.745], "nice": false, "zero": false}, "axis": null}
          }
        },
        {
          "data": {"name": "rightSlash"},
          "mark": {"type": "line", "stroke": "#ffffff", "strokeWidth": 1.5},
          "encoding": {
            "x": {"field": "i", "type": "quantitative", "scale": {"domain": [-1.5714, 128.1429], "nice": false, "zero": false, "padding": 0}, "axis": null},
            "y": {"field": "p", "type": "quantitative", "scale": {"domain": [70.425, 110.745], "nice": false, "zero": false}, "axis": null}
          }
        },
        {
          "data": {"name": "rightMarks"},
          "mark": {"type": "point", "shape": "circle", "filled": false, "stroke": "#ffffff", "strokeWidth": 1.2, "size": 160, "opacity": 1},
          "encoding": {
            "x": {"field": "i", "type": "quantitative", "scale": {"domain": [-1.5714, 128.1429], "nice": false, "zero": false, "padding": 0}, "axis": null},
            "y": {"field": "p", "type": "quantitative", "scale": {"domain": [70.425, 110.745], "nice": false, "zero": false}, "axis": null}
          }
        },
        {
          "data": {"name": "right"},
          "transform": [{"joinaggregate": [{"op": "max", "field": "h", "as": "hmax"}]}, {"filter": "datum.h === datum.hmax"}],
          "layer": [
            {
              "mark": {"type": "text", "text": "←", "font": "DejaVu Sans", "fontSize": 13, "fill": "#c0c0c0", "align": "left", "baseline": "middle"},
              "encoding": {
                "x": {"field": "i", "type": "quantitative", "scale": {"domain": [-1.5714, 128.1429], "nice": false, "zero": false, "padding": 0}, "axis": null},
                "y": {"field": "h", "type": "quantitative", "scale": {"domain": [70.425, 110.745], "nice": false, "zero": false}, "axis": null}
              }
            },
            {
              "mark": {"type": "text", "font": "Liberation Sans", "fontSize": 12, "fill": "#c0c0c0", "align": "left", "baseline": "middle", "dx": 15},
              "encoding": {
                "x": {"field": "i", "type": "quantitative", "scale": {"domain": [-1.5714, 128.1429], "nice": false, "zero": false, "padding": 0}, "axis": null},
                "y": {"field": "h", "type": "quantitative", "scale": {"domain": [70.425, 110.745], "nice": false, "zero": false}, "axis": null},
                "text": {"field": "h", "type": "quantitative", "format": ".4f"}
              }
            }
          ]
        },
        {
          "data": {"values": [
            {"t": "澳日周K", "i": 13.29, "p": 105.03, "kind": "title"},
            {"t": "A", "i": 125.0, "p": 92.60, "kind": "letter"},
            {"t": "底抬高", "i": 122.29, "p": 90.75, "kind": "note"}
          ]},
          "layer": [
            {
              "transform": [{"filter": "datum.kind === 'title'"}],
              "mark": {"type": "text", "font": "Liberation Serif, Noto Sans CJK SC", "fontSize": 23, "fontWeight": "bold", "fill": "#ffffff", "align": "left", "baseline": "middle"},
              "encoding": {
                "x": {"field": "i", "type": "quantitative", "scale": {"domain": [-1.5714, 128.1429], "nice": false, "zero": false, "padding": 0}, "axis": null},
                "y": {"field": "p", "type": "quantitative", "scale": {"domain": [70.425, 110.745], "nice": false, "zero": false}, "axis": null},
                "text": {"field": "t"}
              }
            },
            {
              "transform": [{"filter": "datum.kind === 'letter'"}],
              "mark": {"type": "text", "font": "Liberation Serif", "fontSize": 24, "fontWeight": "bold", "fill": "#ffffff", "align": "center", "baseline": "middle"},
              "encoding": {
                "x": {"field": "i", "type": "quantitative", "scale": {"domain": [-1.5714, 128.1429], "nice": false, "zero": false, "padding": 0}, "axis": null},
                "y": {"field": "p", "type": "quantitative", "scale": {"domain": [70.425, 110.745], "nice": false, "zero": false}, "axis": null},
                "text": {"field": "t"}
              }
            },
            {
              "transform": [{"filter": "datum.kind === 'note'"}],
              "mark": {"type": "text", "font": "Noto Sans CJK SC", "fontSize": 16, "fontWeight": "bold", "fill": "#ff9933", "align": "center", "baseline": "middle"},
              "encoding": {
                "x": {"field": "i", "type": "quantitative", "scale": {"domain": [-1.5714, 128.1429], "nice": false, "zero": false, "padding": 0}, "axis": null},
                "y": {"field": "p", "type": "quantitative", "scale": {"domain": [70.425, 110.745], "nice": false, "zero": false}, "axis": null},
                "text": {"field": "t"}
              }
            }
          ]
        }
      ]
    }
  ]
}
